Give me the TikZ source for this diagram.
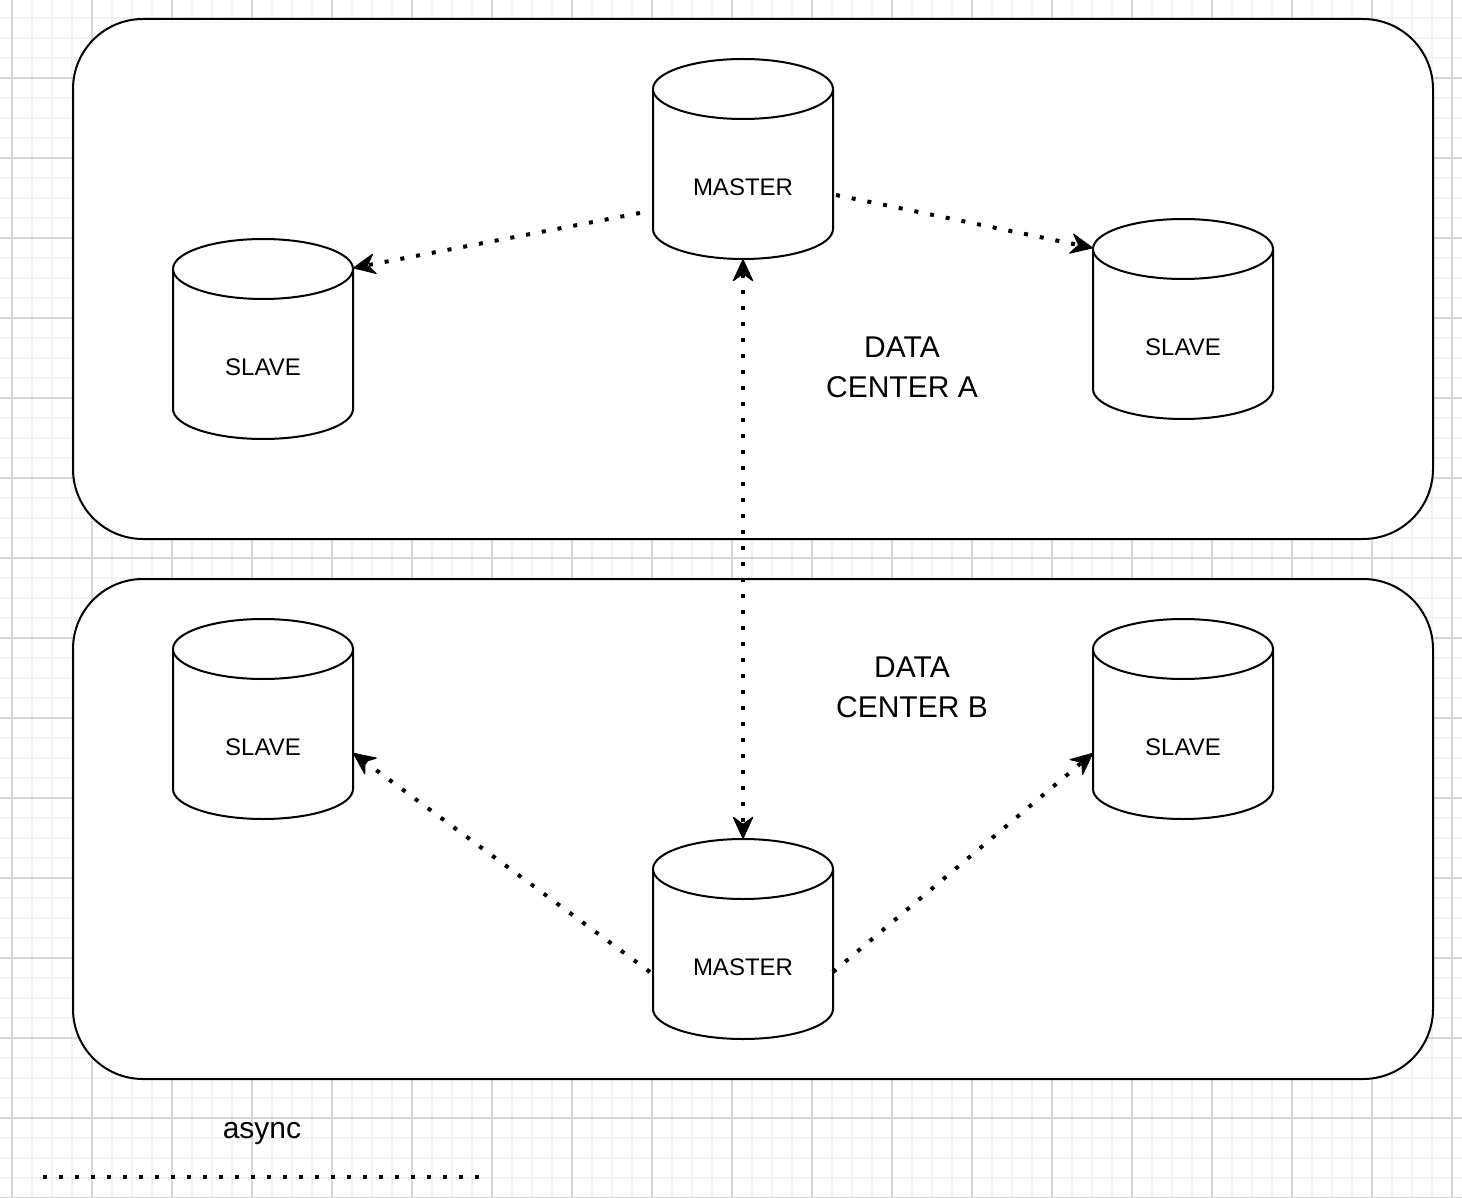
\documentclass[tikz,border=0pt]{standalone}
\usepackage{fontspec}
\setmainfont{Liberation Sans}
\usetikzlibrary{arrows.meta}

\definecolor{gridminor}{RGB}{241,241,241}
\definecolor{gridmajor}{RGB}{214,214,214}

% database cylinder: name, left x, top y, label
\newcommand{\dbcyl}[4]{%
	\draw [cylline] (#2,#3+30) -- (#2,#3+170)
		.. controls (#2,#3+186.57) and (#2+40.3,#3+200) .. (#2+90,#3+200)
		.. controls (#2+139.7,#3+200) and (#2+180,#3+186.57) .. (#2+180,#3+170)
		-- (#2+180,#3+30)
		.. controls (#2+180,#3+13.43) and (#2+139.7,#3) .. (#2+90,#3)
		.. controls (#2+40.3,#3) and (#2,#3+13.43) .. (#2,#3+30) -- cycle;
	\draw [cylline] (#2,#3+30)
		.. controls (#2,#3+46.57) and (#2+40.3,#3+60) .. (#2+90,#3+60)
		.. controls (#2+139.7,#3+60) and (#2+180,#3+46.57) .. (#2+180,#3+30);
	\node [dbbox] (#1) at (#2+90,#3+100) {};
	\node [dblabel] (#1txt) at (#2+90,#3+128) {#4};
}

\tikzset{
	cylline/.style={black, line width=1pt, fill=white, line join=round},
	dbbox/.style={rectangle, inner sep=0pt, outer sep=0pt, minimum width=90pt, minimum height=100pt},
	dblabel/.style={inner sep=0pt, font=\fontsize{12}{14}\selectfont},
	dcbox/.style={draw=black, fill=white, line width=1pt, rounded corners=35pt, inner sep=0pt},
	dctext/.style={align=center, inner sep=0pt, font=\fontsize{15}{20}\selectfont},
	async/.style={black, line width=2pt, line cap=butt, dash pattern=on 2pt off 6pt},
	syncarrow/.style={async, -{Stealth[length=12pt, width=11pt, inset=4pt, line width=0.5pt, round]}},
	syncboth/.style={async, {Stealth[length=12pt, width=11pt, inset=4pt, line width=0.5pt, round]}-{Stealth[length=12pt, width=11pt, inset=4pt, line width=0.5pt, round]}}
}

\begin{document}
\begin{tikzpicture}[x=0.5pt, y=-0.5pt]
	\useasboundingbox (0,0) rectangle (1462,1198);
	\fill [white] (0,0) rectangle (1462,1198);
	% grid
	\foreach \gx in {12,32,...,1452}
		\draw [gridminor, line width=0.75pt] (\gx,0) -- (\gx,1198);
	\foreach \gy in {18,38,...,1198}
		\draw [gridminor, line width=0.75pt] (0,\gy) -- (1462,\gy);
	\foreach \gx in {12,92,...,1452}
		\draw [gridmajor, line width=0.75pt] (\gx,0) -- (\gx,1198);
	\foreach \gy in {78,158,...,1198}
		\draw [gridmajor, line width=0.75pt] (0,\gy) -- (1462,\gy);

	% data centers
	\node [dcbox, minimum width=680pt, minimum height=260pt] (dcA) at (753,279) {};
	\node [dcbox, minimum width=680pt, minimum height=250pt] (dcB) at (753,829) {};
	\node [dctext] (dcAtxt) at (902,367) {DATA\\CENTER A};
	\node [dctext] (dcBtxt) at (912,687) {DATA\\CENTER B};

	% databases
	\dbcyl{mA}{653}{59}{MASTER}
	\dbcyl{sAl}{173}{239}{SLAVE}
	\dbcyl{sAr}{1093}{219}{SLAVE}
	\dbcyl{sBl}{173}{619}{SLAVE}
	\dbcyl{sBr}{1093}{619}{SLAVE}
	\dbcyl{mB}{653}{839}{MASTER}

	% replication
	\draw [syncarrow] ([shift={(-13,54)}]mA.west) -- ([shift={(0,29)}]sAl.north east);
	\draw [syncarrow] ([shift={(3,36)}]mA.east) -- ([shift={(0,29)}]sAr.north west);
	\draw [syncboth] (mA.south) -- (mB.north);
	\draw [syncarrow] ([shift={(-3,33)}]mB.west) -- ([shift={(0,34)}]sBl.east);
	\draw [syncarrow] ([shift={(0,33)}]mB.east) -- ([shift={(0,34)}]sBr.west);

	% legend
	\node [anchor=base, inner sep=0pt, font=\fontsize{15}{18}\selectfont] (lgtxt) at (262,1138) {async};
	\coordinate (lgA) at (43,1177);
	\coordinate (lgB) at (479,1177);
	\draw [async] (lgA) -- (lgB);
\end{tikzpicture}
\end{document}
